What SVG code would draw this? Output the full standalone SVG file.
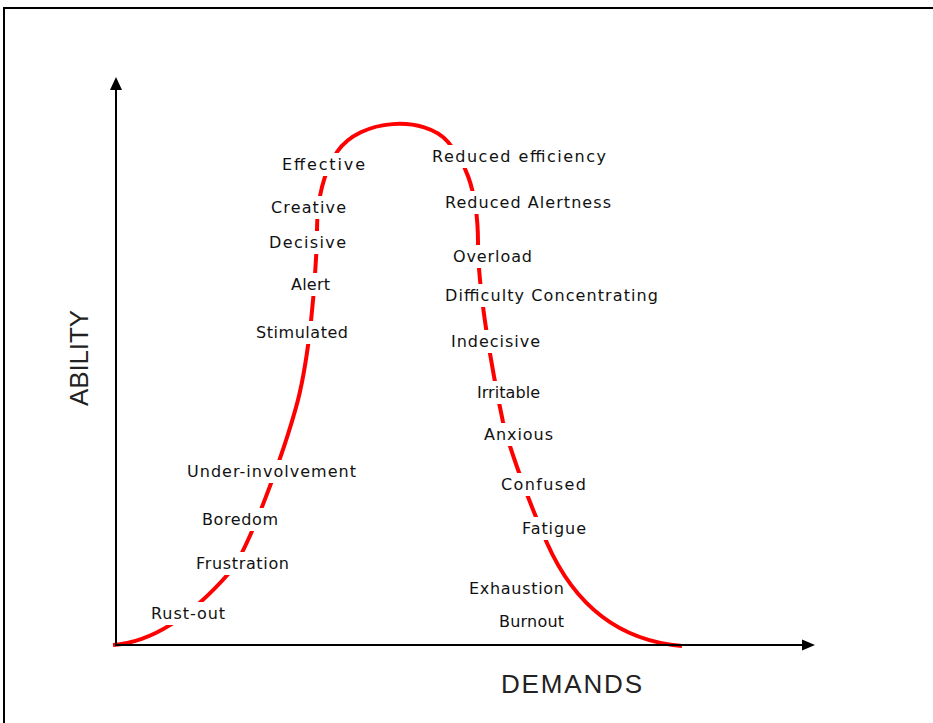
<svg xmlns="http://www.w3.org/2000/svg" width="933" height="723" viewBox="0 0 933 723">
<style>
.lbl{font-family:"DejaVu Sans","Liberation Sans",sans-serif;font-size:16px;fill:#111}
.bg{fill:#fff;stroke:none}
.ax{font-family:"Liberation Sans",Arial,sans-serif;font-size:26px;fill:#222}
.axis{stroke:#000;stroke-width:2;fill:none}
.curve{stroke:#ff0000;stroke-width:4;fill:none;stroke-linecap:butt}
</style>
<rect x="0" y="0" width="933" height="723" fill="#fff"/>
<rect x="4" y="8" width="940" height="730" fill="none" stroke="#000" stroke-width="2"/>
<g id="connectors">
<path class="curve" d="M113,645 C155,642 195,612 230,572 C247.5,552 284,453 298,400 C308,360 316,290 317,230 C317,200 322,175 337,152 C360,118 425,115 448,142 C462,158 478,185 478,243 C478,290 492,370 503,422 C510,450 530,505 547,543 C570,595 610,640 682,646"/>
<line class="axis" x1="116" y1="646" x2="116" y2="88"/>
<line class="axis" x1="115" y1="645" x2="805" y2="645"/>
<polygon points="116,77 122,90 110,90" fill="#000"/>
<polygon points="815,645 802,639.5 802,650.5" fill="#000"/>
</g>
<g id="effective"><rect class="bg" x="279" y="153" width="89" height="23"/><text class="lbl" x="282" y="170" textLength="83" lengthAdjust="spacing">Effective</text></g>
<g id="creative"><rect class="bg" x="268" y="196" width="81" height="23"/><text class="lbl" x="271" y="213" textLength="75" lengthAdjust="spacing">Creative</text></g>
<g id="decisive"><rect class="bg" x="266" y="231" width="83" height="23"/><text class="lbl" x="269" y="248" textLength="77" lengthAdjust="spacing">Decisive</text></g>
<g id="alert"><rect class="bg" x="288" y="273" width="45" height="23"/><text class="lbl" x="291" y="290" textLength="39" lengthAdjust="spacing">Alert</text></g>
<g id="stimulated"><rect class="bg" x="253" y="321" width="98" height="23"/><text class="lbl" x="256" y="338" textLength="92" lengthAdjust="spacing">Stimulated</text></g>
<g id="under-involvement"><rect class="bg" x="184" y="460" width="175" height="23"/><text class="lbl" x="187" y="477" textLength="169" lengthAdjust="spacing">Under-involvement</text></g>
<g id="boredom"><rect class="bg" x="199" y="508" width="82" height="23"/><text class="lbl" x="202" y="525" textLength="76" lengthAdjust="spacing">Boredom</text></g>
<g id="frustration"><rect class="bg" x="193" y="552" width="99" height="23"/><text class="lbl" x="196" y="569" textLength="93" lengthAdjust="spacing">Frustration</text></g>
<g id="rust-out"><rect class="bg" x="148" y="602" width="80" height="23"/><text class="lbl" x="151" y="619" textLength="74" lengthAdjust="spacing">Rust-out</text></g>
<g id="reduced-efficiency"><rect class="bg" x="429" y="145" width="180" height="23"/><text class="lbl" x="432" y="162" textLength="174" lengthAdjust="spacing">Reduced efficiency</text></g>
<g id="reduced-alertness"><rect class="bg" x="442" y="191" width="172" height="23"/><text class="lbl" x="445" y="208" textLength="166" lengthAdjust="spacing">Reduced Alertness</text></g>
<g id="overload"><rect class="bg" x="450" y="245" width="85" height="23"/><text class="lbl" x="453" y="262" textLength="79" lengthAdjust="spacing">Overload</text></g>
<g id="difficulty-concentrating"><rect class="bg" x="442" y="284" width="219" height="23"/><text class="lbl" x="445" y="301" textLength="213" lengthAdjust="spacing">Difficulty Concentrating</text></g>
<g id="indecisive"><rect class="bg" x="448" y="330" width="95" height="23"/><text class="lbl" x="451" y="347" textLength="89" lengthAdjust="spacing">Indecisive</text></g>
<g id="irritable"><rect class="bg" x="474" y="381" width="69" height="23"/><text class="lbl" x="477" y="398" textLength="63" lengthAdjust="spacing">Irritable</text></g>
<g id="anxious"><rect class="bg" x="481" y="423" width="75" height="23"/><text class="lbl" x="484" y="440" textLength="69" lengthAdjust="spacing">Anxious</text></g>
<g id="confused"><rect class="bg" x="498" y="473" width="91" height="23"/><text class="lbl" x="501" y="490" textLength="85" lengthAdjust="spacing">Confused</text></g>
<g id="fatigue"><rect class="bg" x="519" y="517" width="70" height="23"/><text class="lbl" x="522" y="534" textLength="64" lengthAdjust="spacing">Fatigue</text></g>
<g id="exhaustion"><text class="lbl" x="469" y="594" textLength="95" lengthAdjust="spacing">Exhaustion</text></g>
<g id="burnout"><text class="lbl" x="499" y="627" textLength="65" lengthAdjust="spacing">Burnout</text></g>
<g id="ability"><text class="ax" transform="translate(88,406) rotate(-90)" x="0" y="0" textLength="96" lengthAdjust="spacing">ABILITY</text></g>
<g id="demands"><text class="ax" x="501" y="693" textLength="141" lengthAdjust="spacing">DEMANDS</text></g>
</svg>
